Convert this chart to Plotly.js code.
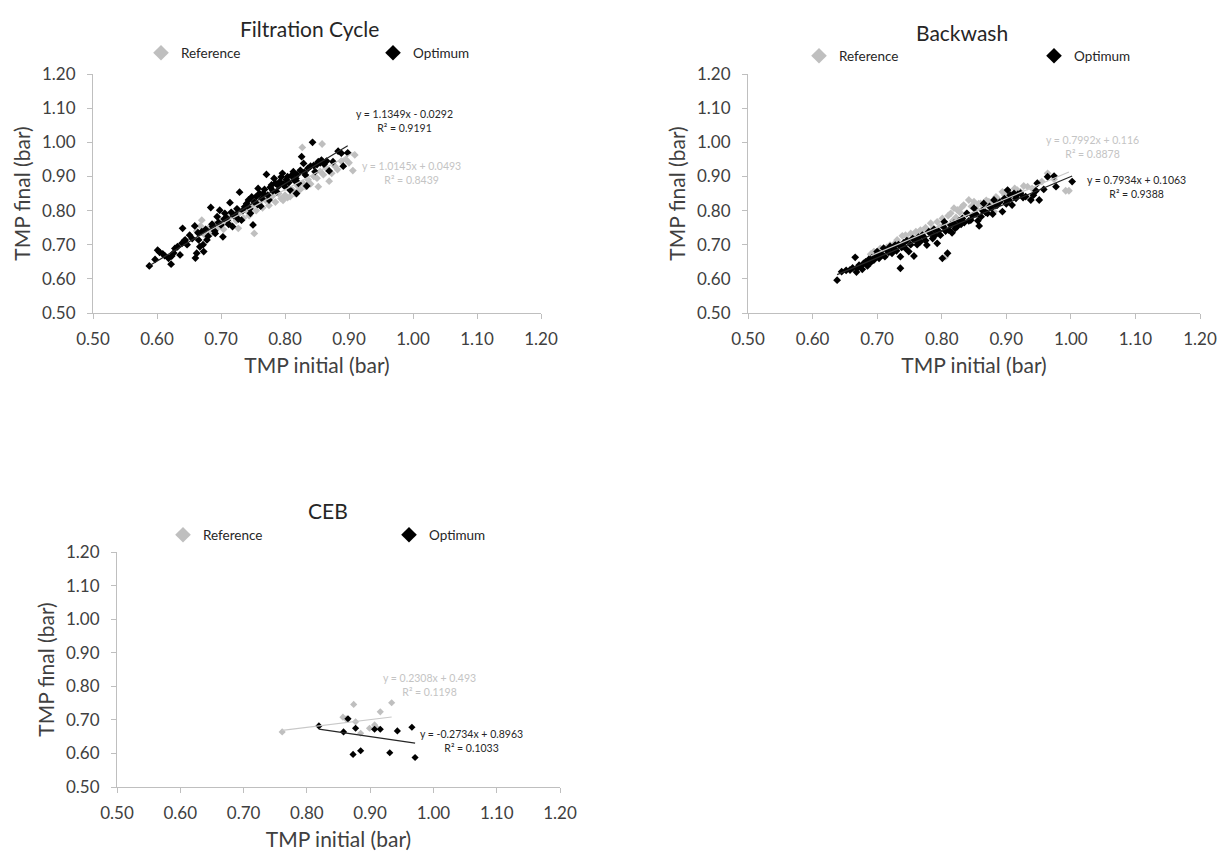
<!DOCTYPE html>
<html><head><meta charset="utf-8">
<script src="https://cdn.plot.ly/plotly-3.0.1.min.js"></script>
<style>html,body{margin:0;padding:0;background:#fff}#chart{width:1220px;height:852px}</style>
</head><body><div id="chart"></div>
<script>
const seriesNames = ['Reference', 'Optimum'];
const panelTitles = ['Filtration Cycle', 'Backwash', 'CEB'];
const xAxisTitle = 'TMP initial (bar)';
const yAxisTitle = 'TMP final (bar)';
const axisTickValues = [0.5, 0.6, 0.7, 0.8, 0.9, 1.0, 1.1, 1.2];
const axisTickLabels = ['0.50', '0.60', '0.70', '0.80', '0.90', '1.00', '1.10', '1.20'];

// Filtration Cycle — Reference
const filtRefX = [0.662,0.668,0.670,0.675,0.680,0.686,0.690,0.695,0.700,0.704,0.708,0.712,0.716,0.720,0.724,0.727,0.730,0.735,0.740,0.744,0.748,0.752,0.755,0.760,0.765,0.770,0.775,0.780,0.785,0.790,0.794,0.797,0.800,0.804,0.808,0.812,0.816,0.820,0.824,0.827,0.828,0.832,0.836,0.840,0.845,0.850,0.852,0.855,0.858,0.860,0.864,0.869,0.873,0.878,0.882,0.888,0.895,0.900,0.906,0.909];
const filtRefY = [0.740,0.755,0.772,0.728,0.748,0.735,0.760,0.750,0.772,0.745,0.765,0.780,0.758,0.790,0.770,0.748,0.795,0.778,0.800,0.785,0.812,0.733,0.800,0.820,0.808,0.830,0.815,0.842,0.825,0.850,0.835,0.830,0.845,0.838,0.841,0.860,0.850,0.872,0.862,0.985,0.880,0.870,0.890,0.878,0.900,0.895,0.870,0.915,0.995,0.905,0.925,0.886,0.909,0.930,0.920,0.945,0.950,0.940,0.917,0.963];
// Filtration Cycle — Optimum
const filtOptX = [0.588,0.597,0.601,0.604,0.609,0.612,0.618,0.622,0.623,0.626,0.628,0.632,0.636,0.639,0.640,0.643,0.644,0.647,0.651,0.655,0.659,0.660,0.662,0.664,0.665,0.667,0.670,0.672,0.673,0.676,0.678,0.680,0.684,0.686,0.687,0.690,0.691,0.694,0.696,0.698,0.700,0.703,0.705,0.706,0.708,0.710,0.712,0.714,0.716,0.718,0.720,0.723,0.725,0.727,0.729,0.732,0.734,0.737,0.740,0.743,0.745,0.746,0.748,0.750,0.752,0.755,0.757,0.758,0.760,0.762,0.764,0.766,0.768,0.771,0.773,0.775,0.777,0.779,0.781,0.783,0.785,0.787,0.790,0.792,0.794,0.796,0.798,0.800,0.802,0.804,0.806,0.808,0.810,0.813,0.815,0.817,0.818,0.819,0.821,0.824,0.826,0.829,0.830,0.832,0.834,0.836,0.840,0.843,0.845,0.847,0.850,0.852,0.855,0.857,0.861,0.865,0.869,0.875,0.883,0.888,0.891,0.898];
const filtOptY = [0.638,0.657,0.684,0.678,0.673,0.668,0.660,0.643,0.667,0.676,0.689,0.694,0.670,0.704,0.748,0.712,0.714,0.700,0.728,0.718,0.755,0.661,0.675,0.735,0.714,0.694,0.738,0.700,0.680,0.745,0.714,0.725,0.809,0.760,0.753,0.740,0.733,0.782,0.765,0.801,0.758,0.723,0.775,0.792,0.780,0.772,0.760,0.823,0.795,0.753,0.785,0.787,0.805,0.775,0.854,0.772,0.800,0.811,0.820,0.831,0.805,0.792,0.840,0.758,0.825,0.841,0.818,0.865,0.850,0.813,0.835,0.850,0.862,0.906,0.845,0.831,0.868,0.875,0.858,0.894,0.880,0.855,0.872,0.885,0.898,0.909,0.877,0.870,0.890,0.899,0.882,0.860,0.902,0.914,0.888,0.894,0.850,0.905,0.880,0.918,0.958,0.938,0.912,0.904,0.872,0.924,0.930,1.000,0.932,0.914,0.935,0.943,0.940,0.948,0.936,0.945,0.916,0.943,0.974,0.968,0.930,0.969];

// Backwash — Reference
const bwRefX = [0.690,0.695,0.700,0.705,0.710,0.715,0.720,0.724,0.728,0.731,0.735,0.739,0.744,0.748,0.752,0.756,0.760,0.764,0.767,0.771,0.775,0.779,0.783,0.787,0.793,0.797,0.801,0.804,0.806,0.810,0.814,0.817,0.819,0.822,0.824,0.828,0.831,0.834,0.838,0.842,0.846,0.850,0.854,0.857,0.860,0.865,0.869,0.873,0.877,0.881,0.884,0.886,0.890,0.894,0.898,0.902,0.906,0.910,0.913,0.917,0.922,0.927,0.933,0.940,0.948,0.955,0.964,0.974,0.992,0.997];
const bwRefY = [0.672,0.680,0.665,0.689,0.678,0.692,0.699,0.688,0.705,0.714,0.700,0.726,0.728,0.715,0.733,0.722,0.738,0.725,0.743,0.735,0.750,0.740,0.763,0.748,0.767,0.752,0.777,0.760,0.665,0.785,0.792,0.770,0.807,0.780,0.802,0.795,0.810,0.816,0.790,0.831,0.812,0.826,0.805,0.820,0.821,0.810,0.830,0.826,0.815,0.797,0.840,0.836,0.825,0.855,0.845,0.841,0.850,0.838,0.865,0.860,0.855,0.872,0.870,0.865,0.880,0.885,0.909,0.892,0.858,0.858];
// Backwash — Optimum
const bwOptX = [0.638,0.645,0.652,0.658,0.662,0.666,0.668,0.669,0.672,0.674,0.677,0.679,0.682,0.685,0.687,0.690,0.692,0.695,0.698,0.700,0.703,0.705,0.708,0.710,0.712,0.715,0.718,0.720,0.723,0.725,0.728,0.730,0.733,0.736,0.736,0.738,0.741,0.744,0.746,0.749,0.752,0.755,0.757,0.759,0.762,0.764,0.767,0.770,0.772,0.775,0.777,0.780,0.783,0.786,0.788,0.790,0.793,0.795,0.798,0.801,0.803,0.804,0.806,0.809,0.811,0.814,0.816,0.819,0.821,0.824,0.827,0.830,0.832,0.835,0.839,0.842,0.845,0.848,0.850,0.853,0.856,0.858,0.861,0.863,0.865,0.868,0.871,0.874,0.877,0.879,0.881,0.884,0.886,0.890,0.894,0.897,0.900,0.902,0.904,0.906,0.909,0.912,0.915,0.918,0.922,0.926,0.930,0.938,0.942,0.946,0.948,0.951,0.958,0.964,0.974,0.977,1.002];
const bwOptY = [0.596,0.621,0.625,0.626,0.632,0.663,0.620,0.631,0.640,0.636,0.628,0.645,0.650,0.638,0.657,0.648,0.662,0.655,0.668,0.680,0.660,0.672,0.670,0.690,0.665,0.684,0.678,0.695,0.675,0.688,0.699,0.682,0.700,0.631,0.665,0.692,0.705,0.689,0.712,0.680,0.700,0.718,0.667,0.714,0.700,0.722,0.709,0.728,0.723,0.712,0.699,0.738,0.733,0.718,0.745,0.728,0.704,0.740,0.728,0.660,0.752,0.767,0.740,0.675,0.743,0.758,0.735,0.763,0.748,0.753,0.770,0.760,0.777,0.765,0.792,0.770,0.772,0.785,0.807,0.790,0.770,0.755,0.782,0.800,0.821,0.795,0.792,0.812,0.807,0.790,0.831,0.815,0.816,0.825,0.797,0.835,0.820,0.860,0.831,0.845,0.816,0.850,0.836,0.848,0.851,0.838,0.841,0.831,0.845,0.858,0.880,0.831,0.862,0.899,0.901,0.870,0.885];

// CEB — Reference
const cebRefX = [0.761,0.857,0.862,0.874,0.877,0.885,0.899,0.907,0.909,0.916,0.934];
const cebRefY = [0.664,0.708,0.703,0.746,0.694,0.660,0.675,0.685,0.679,0.724,0.751];
// CEB — Optimum
const cebOptX = [0.819,0.858,0.865,0.873,0.877,0.885,0.907,0.916,0.931,0.943,0.966,0.971];
const cebOptY = [0.682,0.664,0.703,0.597,0.675,0.608,0.672,0.672,0.602,0.667,0.678,0.588];

// Linear trendline coefficients [slope, intercept, R²] as printed on the chart
const filtRefFit = [1.0145, 0.0493, 0.8439];
const filtOptFit = [1.1349, -0.0292, 0.9191];
const bwRefFit = [0.7992, 0.116, 0.8878];
const bwOptFit = [0.7934, 0.1063, 0.9388];
const cebRefFit = [0.2308, 0.493, 0.1198];
const cebOptFit = [-0.2734, 0.8963, 0.1033];

const REF_COLOR = '#bfbfbf';
const OPT_COLOR = '#000000';
const FONT = 'Lato, "Open Sans", "Liberation Sans", sans-serif';
const W = 1220, H = 852;

// panel geometry in pixels: axis x-span, axis y-span (top,bottom), title centre, legend placement
const panels = [
  {px: [93, 541], py: [74, 313], title: [309, 28], legend: {x: 141, y: 53, ew: 187}, refX: filtRefX, refY: filtRefY, optX: filtOptX, optY: filtOptY, refFit: filtRefFit, optFit: filtOptFit,
   refEq: [0.997, 0.910], optEq: [0.986, 1.062], msize: 6},
  {px: [748, 1200], py: [74, 313], title: [962, 33], legend: {x: 799, y: 56, ew: 190}, refX: bwRefX, refY: bwRefY, optX: bwOptX, optY: bwOptY, refFit: bwRefFit, optFit: bwOptFit,
   refEq: [1.034, 0.986], optEq: [1.101, 0.868], msize: 6},
  {px: [117, 560], py: [552, 787], title: [328, 510], legend: {x: 163, y: 535, ew: 181}, refX: cebRefX, refY: cebRefY, optX: cebOptX, optY: cebOptY, refFit: cebRefFit, optFit: cebOptFit,
   refEq: [0.994, 0.804], optEq: [1.060, 0.636], msize: 5.5}
];

function eqText(fit) {
  const m = fit[0], b = fit[1];
  return 'y = ' + m + 'x ' + (b < 0 ? '- ' : '+ ') + Math.abs(b) + '<br>R² = ' + fit[2];
}
function fitLine(xs, fit) {
  const lo = Math.min(...xs), hi = Math.max(...xs);
  return {x: [lo, hi], y: [fit[0] * lo + fit[1], fit[0] * hi + fit[1]]};
}

const traces = [];
const layout = {
  width: W, height: H, margin: {l: 0, r: 0, t: 0, b: 0, autoexpand: false},
  paper_bgcolor: '#fff', plot_bgcolor: '#fff',
  font: {family: FONT, color: '#404040'},
  annotations: [], hovermode: false
};

panels.forEach((p, i) => {
  const n = i === 0 ? '' : String(i + 1);
  const xa = 'x' + n, ya = 'y' + n;
  const lg = 'legend' + n;
  traces.push({type: 'scatter', mode: 'markers', x: p.refX, y: p.refY, xaxis: xa, yaxis: ya, name: seriesNames[0], legend: lg,
    legendwidth: p.legend.ew, marker: {symbol: 'diamond', size: p.msize, color: REF_COLOR}});
  traces.push({type: 'scatter', mode: 'markers', x: p.optX, y: p.optY, xaxis: xa, yaxis: ya, name: seriesNames[1], legend: lg,
    legendwidth: 65, marker: {symbol: 'diamond', size: p.msize, color: OPT_COLOR}});
  const rl = fitLine(p.refX, p.refFit), ol = fitLine(p.optX, p.optFit);
  traces.push({type: 'scatter', mode: 'lines', x: rl.x, y: rl.y, xaxis: xa, yaxis: ya, showlegend: false, line: {color: '#c8c8c8', width: 1.2}});
  traces.push({type: 'scatter', mode: 'lines', x: ol.x, y: ol.y, xaxis: xa, yaxis: ya, showlegend: false, line: {color: '#262626', width: 1.2}});

  const axBase = {
    range: [0.5, 1.2], tickvals: axisTickValues, ticktext: axisTickLabels,
    showgrid: false, zeroline: false, showline: true, linecolor: '#bfbfbf', linewidth: 1,
    ticks: 'outside', ticklen: 5, tickcolor: '#bfbfbf', tickfont: {size: 17, color: '#404040', family: FONT},
    automargin: false, fixedrange: true
  };
  layout['xaxis' + n] = Object.assign({}, axBase, {
    domain: [p.px[0] / W, p.px[1] / W], anchor: ya, ticklabelstandoff: 6,
    title: {text: xAxisTitle, font: {size: 21, color: '#404040', family: FONT}, standoff: 9}
  });
  layout['yaxis' + n] = Object.assign({}, axBase, {
    domain: [1 - p.py[1] / H, 1 - p.py[0] / H], anchor: xa, ticklabelstandoff: 8,
    title: {text: yAxisTitle, font: {size: 21, color: '#404040', family: FONT}, standoff: 5}
  });
  layout[lg] = {
    x: p.legend.x / W, y: 1 - p.legend.y / H, xanchor: 'left', yanchor: 'middle',
    orientation: 'h', entrywidthmode: 'pixels', itemsizing: 'constant',
    bgcolor: 'rgba(0,0,0,0)', borderwidth: 0, font: {size: 13.5, color: '#262626', family: FONT}
  };
  layout.annotations.push({xref: 'paper', yref: 'paper', x: p.title[0] / W, y: 1 - p.title[1] / H, xanchor: 'center', yanchor: 'middle',
    text: panelTitles[i], showarrow: false, font: {size: 21, color: '#262626', family: FONT}});
  layout.annotations.push({xref: xa, yref: ya, x: p.refEq[0], y: p.refEq[1], xanchor: 'center', yanchor: 'middle', align: 'center',
    text: eqText(p.refFit), showarrow: false, font: {size: 10.5, color: '#c4c4c4', family: FONT}});
  layout.annotations.push({xref: xa, yref: ya, x: p.optEq[0], y: p.optEq[1], xanchor: 'center', yanchor: 'middle', align: 'center',
    text: eqText(p.optFit), showarrow: false, font: {size: 10.5, color: '#262626', family: FONT}});
});

Plotly.newPlot('chart', traces, layout, {displayModeBar: false, staticPlot: true});
</script>
</body></html>
